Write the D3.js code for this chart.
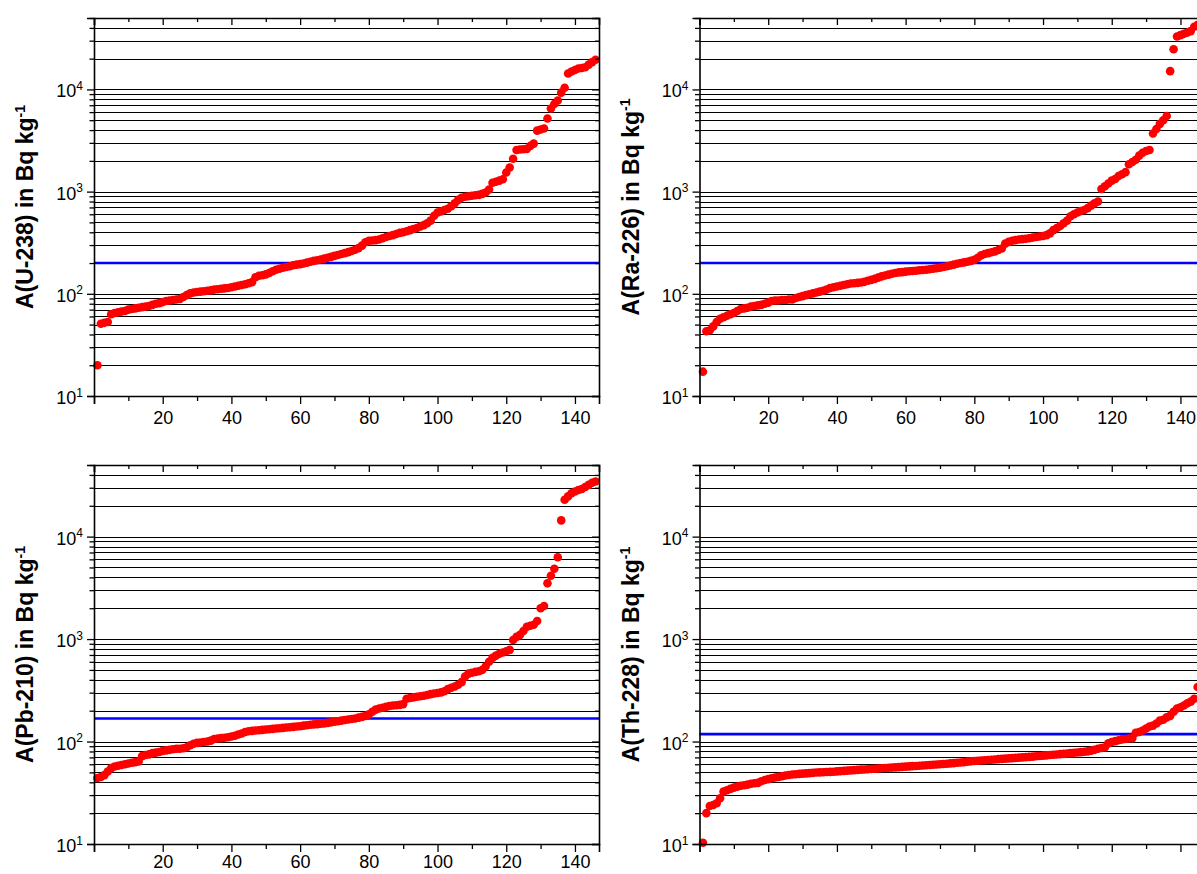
<!DOCTYPE html>
<html><head><meta charset="utf-8">
<script src="https://cdn.jsdelivr.net/npm/d3@7"></script>
<style>
body{margin:0;background:#fff;overflow:hidden;}
svg{display:block;font-family:Arial,"Liberation Sans",sans-serif;}
</style>
</head><body>
<svg id="c" width="1197" height="874"></svg>
<script>
// ---------- data (sorted activity values, Bq/kg, sample rank 1..146) ----------
const nuclides = ["U-238", "Ra-226", "Pb-210", "Th-228"];

const u238 = [20,51,52,53,63,65,66,67,68,70,71,72,73,74,75,76,78,80,81,83,
85,86,87,88,89,93,97,101,103,104,105,106,107,108,110,111,112,113,114,116,
118,120,122,124,127,130,145,150,152,155,160,166,172,176,180,183,186,190,193,195,
198,202,206,210,213,217,221,225,230,235,240,245,250,256,262,270,280,296,320,330,
332,335,340,350,360,368,375,385,395,400,410,420,430,440,455,470,490,520,580,625,
640,660,680,720,770,830,870,890,900,910,920,930,950,980,1050,1220,1250,1280,1320,1540,
1720,2100,2550,2580,2600,2620,2800,2950,3950,4050,4150,5200,6500,7200,7800,9300,10400,14300,15000,15500,
16000,16200,16500,17500,18500,19500];

const ra226 = [17.3,43,44,48,53,57,59,61,63,65,68,71,72,73,75,76,77,78,80,82,
85,86,86,87,87,88,88,91,93,95,97,99,101,103,105,107,110,114,116,118,
120,122,124,126,127,128,129,131,134,137,140,144,148,151,154,157,160,162,163,165,
166,167,168,170,171,172,174,176,178,180,183,186,189,193,197,200,203,206,210,215,
225,238,245,250,255,260,268,278,310,322,330,335,340,343,346,350,355,360,364,368,
375,390,420,440,460,490,520,575,600,625,645,660,690,730,770,800,1060,1130,1200,1280,
1330,1420,1480,1550,1850,1950,2050,2250,2400,2500,2550,3700,4100,4600,5000,5500,15100,24700,33000,34000,
35000,36000,37200,41000,43000,45000];

const pb210 = [44,45,47,51,55,57,58,59,60,61,62,63,64,72,74,75,77,78,79,81,
82,83,84,85,85,86,88,92,95,97,98,99,100,102,106,107,108,109,110,112,
114,117,120,124,126,127,128,129,130,131,132,133,134,135,136,137,138,139,140,141,
143,144,146,147,148,149,150,152,154,156,158,160,162,164,166,168,171,174,178,184,
195,205,210,214,218,222,225,226,228,232,262,266,270,274,277,280,285,290,294,298,
302,310,325,335,345,358,380,430,460,470,478,485,500,540,600,655,690,720,740,760,
785,980,1050,1100,1200,1320,1350,1380,1500,2000,2100,3500,4150,4850,6300,14400,22900,24700,26500,27600,
28500,29200,30500,32000,33500,34500];

const th228 = [10.3,20,23.5,24,25,28,32.5,33.5,34.5,35.5,36.3,37,37.5,38,38.7,39.2,39.5,41,42.2,43,
43.8,44.5,45.2,45.8,46.6,47.2,47.6,48,48.3,48.6,48.9,49.2,49.5,49.8,50,50.2,50.4,50.6,50.8,51.1,
51.4,51.7,52,52.3,52.6,52.9,53.2,53.4,53.6,53.9,54.2,54.5,54.8,55.1,55.4,55.7,56,56.3,56.6,56.9,
57.2,57.5,57.8,58.1,58.4,58.7,59,59.3,59.6,60,60.4,60.8,61.2,61.6,62,62.5,63,63.7,64.1,64.5,
64.9,65.3,65.7,66.1,66.5,66.9,67.3,67.7,68.1,68.5,68.9,69.3,69.7,70.1,70.5,70.9,71.3,71.8,72.3,72.8,
73.3,73.8,74.3,74.8,75.3,75.8,76.4,77,77.6,78.2,78.8,79.4,80.2,81.5,83,85,86.5,88,96,99,
101,103,105,106,107,108,122,124,128,134,140,143,150,160,163,172,178,195,210,216,
225,236,245,262,340,360];

const referenceLevels = [200, 200, 168, 118];

const xMajorTicks = [0,20,40,60,80,100,120,140];
const xMinorTicks = [10,30,50,70,90,110,130];
const yMajorTicks = [10,100,1000,10000];
const xDomain = [0,147];
const yDomain = [10,50000];

// ---------- layout ----------
const svg = d3.select("#c");
const W = 505;
const FONT = 'Arial, "Liberation Sans", sans-serif';
const layout = [
  {left:94,   top:18,  h:378, xLabels:true,  pad:7},
  {left:699.5,top:18,  h:378, xLabels:true,  pad:7},
  {left:94,   top:465, h:379, xLabels:true,  pad:3},
  {left:699.5,top:465, h:379, xLabels:false, pad:3}
];
const seriesList = [u238, ra226, pb210, th228];

const yMinorTicks = [];
for (let d=1; d<=4; d++) for (let k=2;k<=9;k++){ const v=k*Math.pow(10,d); if (v<=yDomain[1]) yMinorTicks.push(v); }
const gridVals = yMajorTicks.concat(yMinorTicks).filter(v=>v>yDomain[0] && v<yDomain[1]);

seriesList.forEach((vals, i) => {
  const L = layout[i];
  const g = svg.append("g").attr("transform",`translate(${L.left},${L.top})`);
  const x = d3.scaleLinear().domain(xDomain).range([0,W]);
  const y = d3.scaleLog().domain(yDomain).range([L.h,0]);

  // gridlines
  g.append("g").selectAll("line").data(gridVals).join("line")
    .attr("x1",0).attr("x2",W)
    .attr("y1",d=>Math.round(y(d))+0.5).attr("y2",d=>Math.round(y(d))+0.5)
    .attr("stroke","#000").attr("stroke-width",1).attr("shape-rendering","crispEdges");

  // reference line
  g.append("line").attr("x1",0).attr("x2",W)
    .attr("y1",y(referenceLevels[i])).attr("y2",y(referenceLevels[i]))
    .attr("stroke","#0000ff").attr("stroke-width",2.6);

  // dots
  g.append("g").selectAll("circle").data(vals).join("circle")
    .attr("cx",(d,j)=>x(j+1)).attr("cy",d=>y(d)).attr("r",4.3)
    .attr("fill","#ff0000");

  const styleAxis = sel => {
    sel.attr("font-family", FONT);
    sel.select(".domain").attr("stroke","#000").attr("stroke-width",1.6);
    sel.selectAll(".tick line").attr("stroke","#000").attr("stroke-width",1.3);
  };

  // bottom axis
  const bMaj = g.append("g").attr("transform",`translate(0,${L.h})`)
    .call(d3.axisBottom(x).tickValues(xMajorTicks).tickSize(8).tickPadding(L.pad)
      .tickFormat(d => (L.xLabels && d!==0) ? d : ""));
  styleAxis(bMaj);
  bMaj.selectAll(".tick text").attr("font-size","18px").attr("fill","#000");
  const bMin = g.append("g").attr("transform",`translate(0,${L.h})`)
    .call(d3.axisBottom(x).tickValues(xMinorTicks).tickSize(5).tickFormat(""));
  styleAxis(bMin); bMin.select(".domain").remove();

  // top axis (inward ticks)
  const tMaj = g.append("g").call(d3.axisTop(x).tickValues(xMajorTicks).tickSize(-7).tickFormat(""));
  styleAxis(tMaj);
  const tMin = g.append("g").call(d3.axisTop(x).tickValues(xMinorTicks).tickSize(-4).tickFormat(""));
  styleAxis(tMin); tMin.select(".domain").remove();

  // left axis
  const lMaj = g.append("g").call(d3.axisLeft(y).tickValues(yMajorTicks).tickSize(7).tickPadding(4).tickFormat(""));
  styleAxis(lMaj);
  lMaj.selectAll(".tick text").each(function(d){
    const t = d3.select(this).attr("font-size","18px").attr("fill","#000").attr("dy","0.42em");
    t.append("tspan").text("10");
    t.append("tspan").attr("dy","-0.62em").attr("font-size","12px").text(Math.round(Math.log10(d)));
  });
  const lMin = g.append("g").call(d3.axisLeft(y).tickValues(yMinorTicks).tickSize(4.5).tickFormat(""));
  styleAxis(lMin); lMin.select(".domain").remove();

  // right axis (inward ticks)
  const rMaj = g.append("g").attr("transform",`translate(${W},0)`)
    .call(d3.axisRight(y).tickValues(yMajorTicks).tickSize(-7).tickFormat(""));
  styleAxis(rMaj);
  const rMin = g.append("g").attr("transform",`translate(${W},0)`)
    .call(d3.axisRight(y).tickValues(yMinorTicks).tickSize(-4).tickFormat(""));
  styleAxis(rMin); rMin.select(".domain").remove();

  // y title
  const title = g.append("text")
    .attr("transform",`translate(-61,${L.h/2}) rotate(-90)`)
    .attr("text-anchor","middle").attr("font-size","23px").attr("font-weight","bold")
    .attr("font-family", FONT).attr("fill","#000");
  title.append("tspan").text(`A(${nuclides[i]}) in Bq kg`);
  title.append("tspan").attr("dy","-0.6em").attr("font-size","14px").text("-1");
});
</script>
</body></html>
